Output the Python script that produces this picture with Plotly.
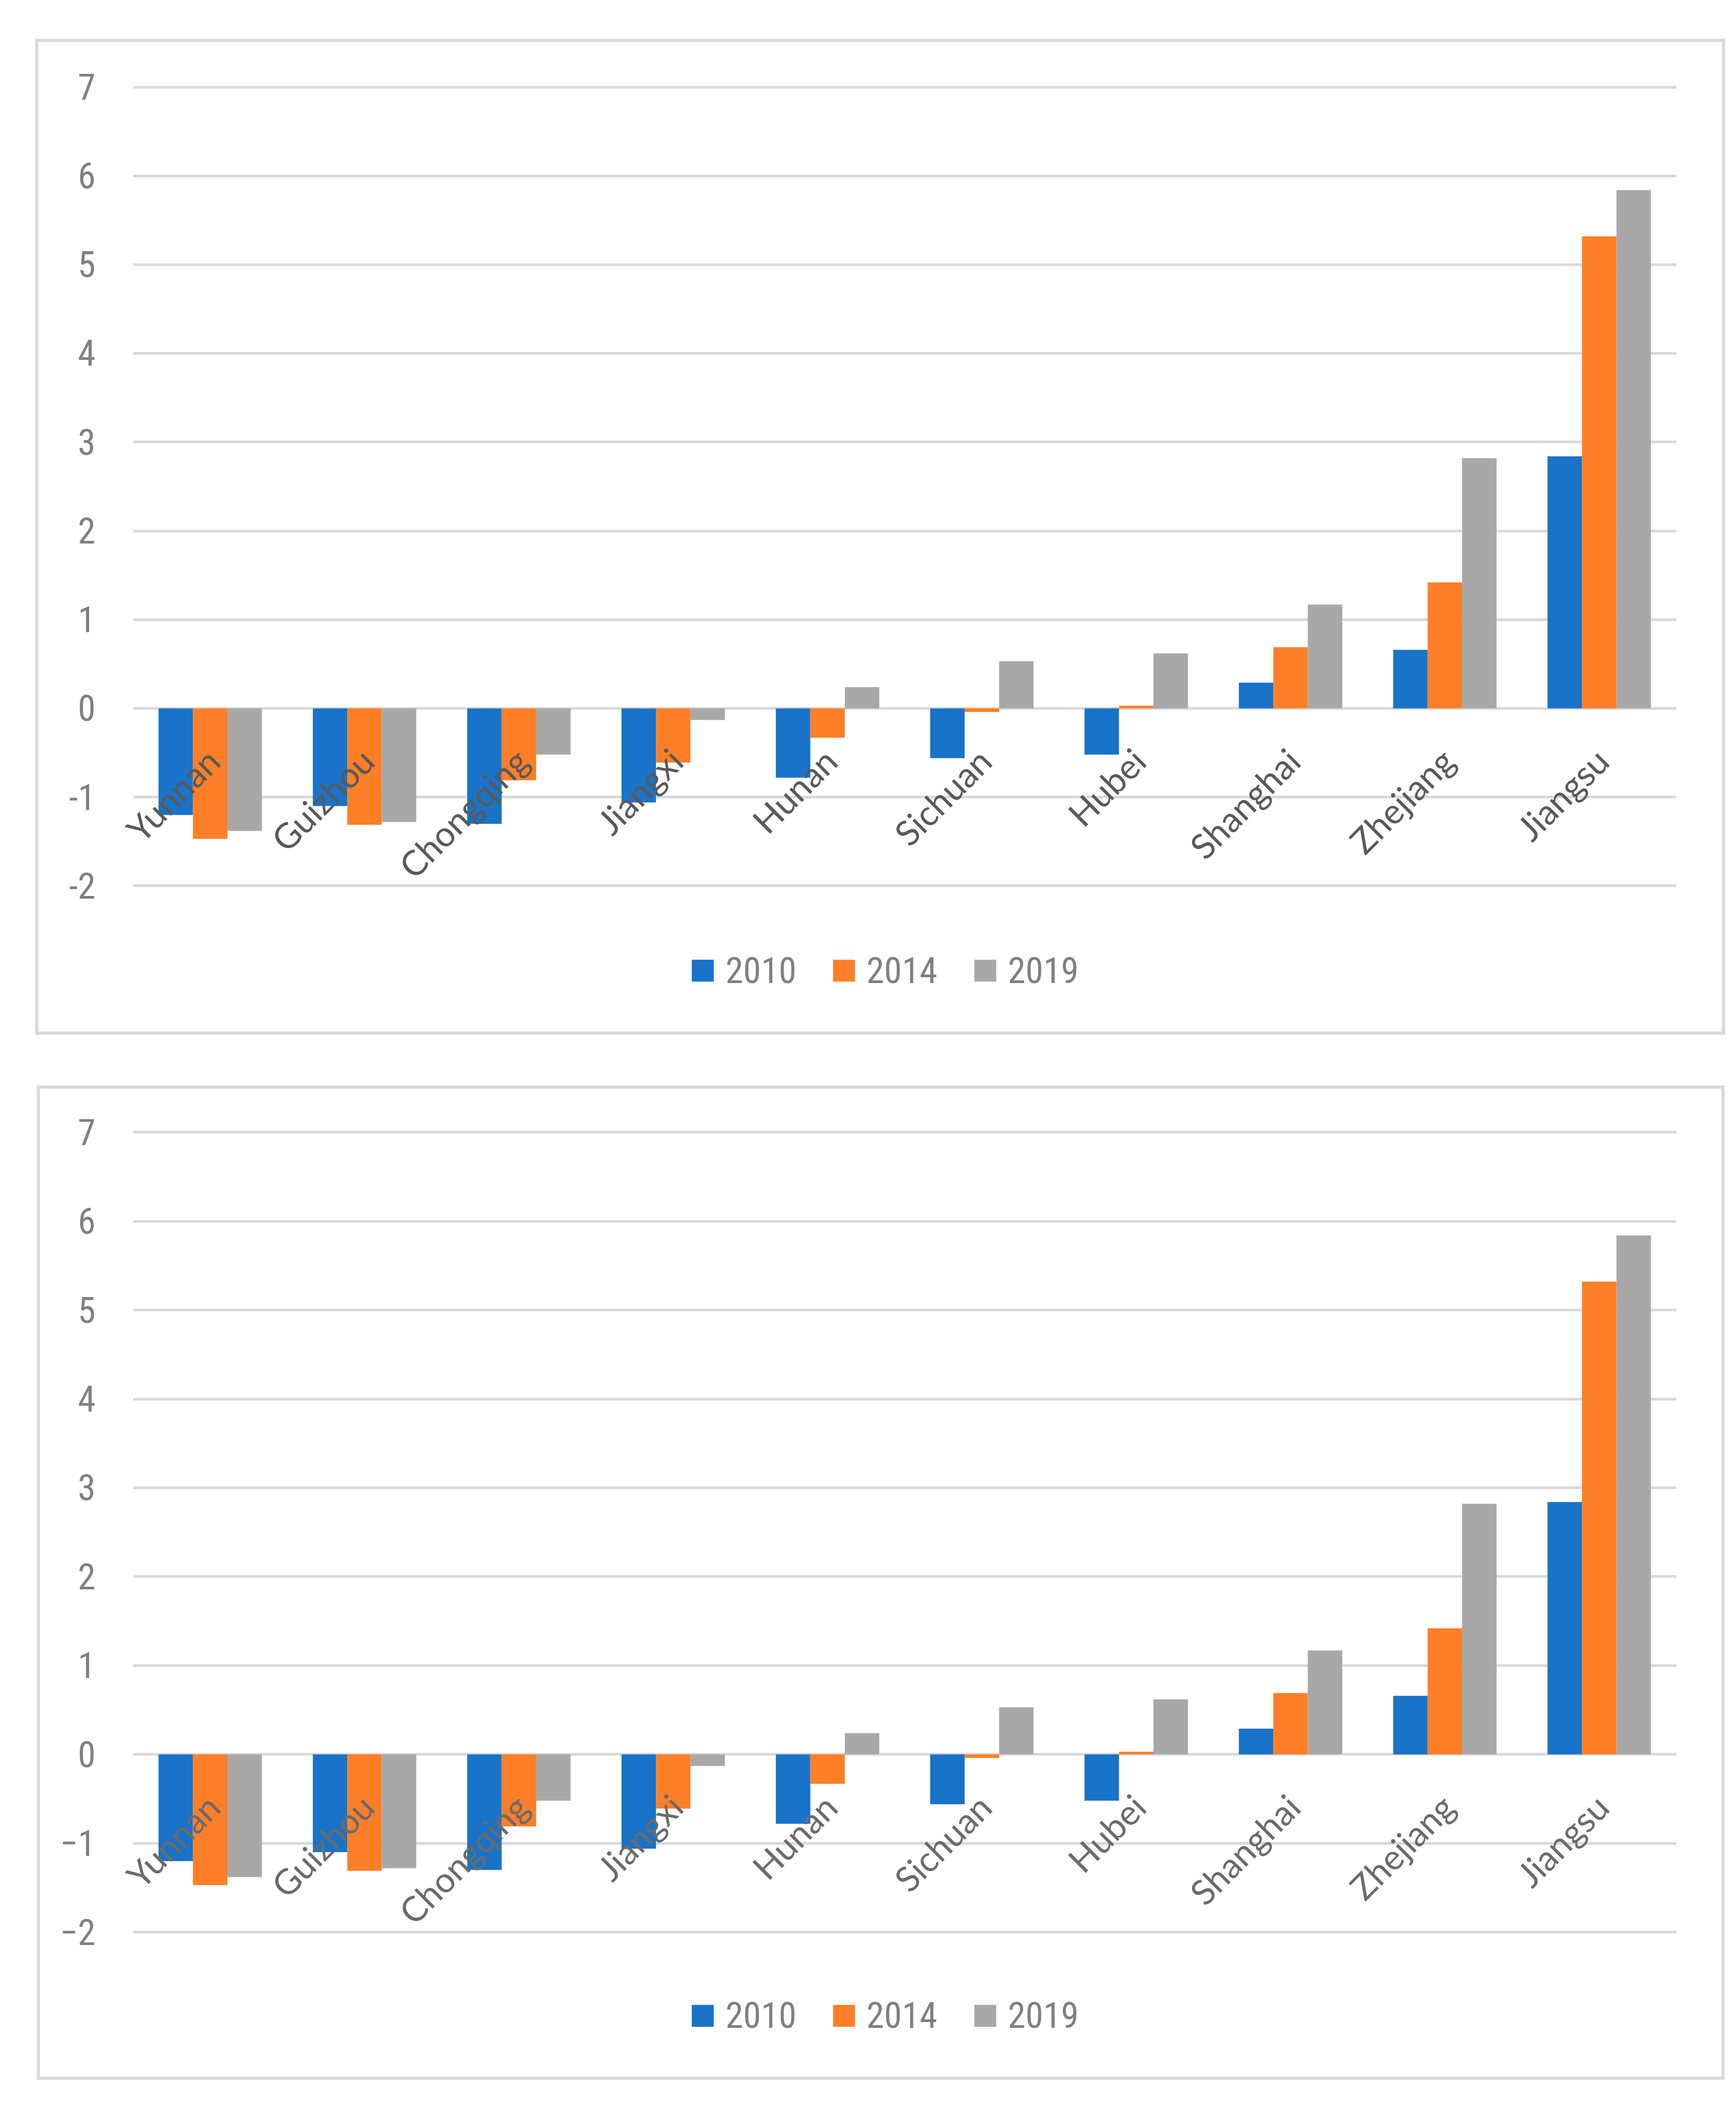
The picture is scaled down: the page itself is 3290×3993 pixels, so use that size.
import plotly.graph_objects as go

# ---------------- data ----------------
categories = ["Yunnan", "Guizhou", "Chongqing", "Jiangxi", "Hunan",
              "Sichuan", "Hubei", "Shanghai", "Zhejiang", "Jiangsu"]
years = ["2010", "2014", "2019"]
v2010 = [-1.20, -1.10, -1.30, -1.06, -0.78, -0.56, -0.52, 0.29, 0.66, 2.84]
v2014 = [-1.47, -1.31, -0.81, -0.61, -0.33, -0.04, 0.03, 0.69, 1.42, 5.32]
v2019 = [-1.38, -1.28, -0.52, -0.13, 0.24, 0.53, 0.62, 1.17, 2.82, 5.84]
series = [v2010, v2014, v2019]
colors = ["#1873C9", "#FE7F27", "#A8A8A8"]

ytick_vals = [-2, -1, 0, 1, 2, 3, 4, 5, 6, 7]
ytick_text_top = ["-2", "-1", "0", "1", "2", "3", "4", "5", "6", "7"]
ytick_text_bottom = ["\u22122", "\u22121", "0", "1", "2", "3", "4", "5", "6", "7"]
y_min, y_max = -2, 7

# ---------------- layout helpers ----------------
W, H = 3290, 3993


def fx(px):
    return px / W


def fy(py):
    return 1 - py / H


NARROW = "Liberation Sans Narrow, Roboto Condensed, Arial Narrow, sans-serif"
CAT = "Lato, Carlito, Open Sans, sans-serif"
GRID = "#D9D9D9"
PAD = 0.06  # small range padding so the edge gridlines are drawn

panels = [
    dict(x="x", y="y", top=130, bot=1667, box=(34, 40, 3258, 1950),
         ytext=ytick_text_top, leg_y=1830, catcol="#595959", tickcol="#7F7F7F"),
    dict(x="x2", y="y2", top=2141, bot=3680, box=(37, 2054, 3257, 3961),
         ytext=ytick_text_bottom, leg_y=3841, catcol="#6A6A6A", tickcol="#808080"),
]

fig = go.Figure()
for p in panels:
    for name, vals, col in zip(years, series, colors):
        fig.add_trace(go.Bar(
            x=categories, y=vals, name=name, marker=dict(color=col, line=dict(width=0)),
            xaxis=p["x"], yaxis=p["y"], showlegend=False,
        ))

shapes = []
annotations = []
layout_axes = {}
for k, p in enumerate(panels):
    unit = (p["bot"] - p["top"]) / (y_max - y_min)
    top_px = p["top"] - PAD * unit
    bot_px = p["bot"] + PAD * unit
    ydom = [fy(bot_px), fy(top_px)]
    zero_pos = fy(p["top"] + (y_max - 0) * unit)
    xname = "xaxis" if k == 0 else "xaxis2"
    yname = "yaxis" if k == 0 else "yaxis2"
    layout_axes[xname] = dict(
        domain=[fx(218), fx(3168)], anchor="free", position=zero_pos,
        type="category", showgrid=False, showline=False, zeroline=False, ticks="",
        tickangle=-45, tickfont=dict(family=CAT, size=66, color=p["catcol"]),
        ticklabelstandoff=48,
    )
    layout_axes[yname] = dict(
        domain=ydom, anchor=p["x"], range=[y_min - PAD, y_max + PAD],
        tickvals=ytick_vals, ticktext=p["ytext"],
        showgrid=True, gridcolor=GRID, gridwidth=5, zeroline=False, showline=False,
        ticks="", tickfont=dict(family=NARROW, size=68, color=p["tickcol"]),
        ticklabelstandoff=70,
    )
    x0, y0, x1, y1 = p["box"]
    shapes.append(dict(type="rect", xref="paper", yref="paper",
                       x0=fx(x0), x1=fx(x1), y0=fy(y1), y1=fy(y0),
                       line=dict(color=GRID, width=6), fillcolor="rgba(0,0,0,0)", layer="below"))
    # legend (squares + labels)
    lx = 1286
    for j, (name, col) in enumerate(zip(years, colors)):
        sx = lx + j * 270
        shapes.append(dict(type="rect", xref="paper", yref="paper",
                           x0=fx(sx), x1=fx(sx + 42), y0=fy(p["leg_y"] + 21), y1=fy(p["leg_y"] - 21),
                           line=dict(width=0), fillcolor=col))
        annotations.append(dict(xref="paper", yref="paper", x=fx(sx + 62), y=fy(p["leg_y"]),
                                text=name, showarrow=False, xanchor="left", yanchor="middle",
                                font=dict(family=NARROW, size=68, color="#7F7F7F")))

fig.update_layout(
    width=W, height=H, margin=dict(l=0, r=0, t=0, b=0),
    paper_bgcolor="white", plot_bgcolor="white",
    barmode="group", bargap=0.33, bargroupgap=0,
    shapes=shapes, annotations=annotations, showlegend=False,
    **layout_axes,
)

fig.write_html("out.html")
